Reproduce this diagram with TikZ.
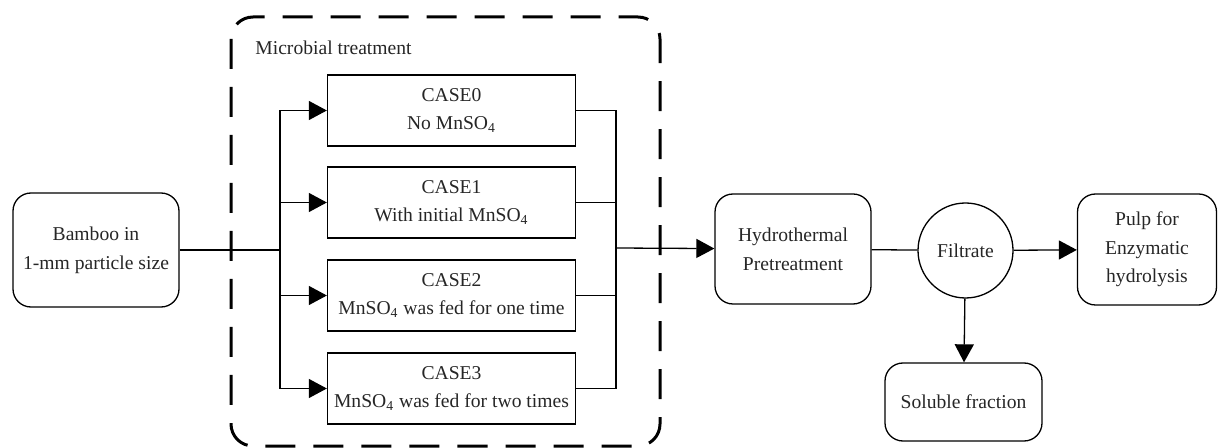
\documentclass[tikz,border=0pt]{standalone}
\usepackage{fontspec}
\setmainfont{Liberation Serif}
\usetikzlibrary{arrows.meta}
\begin{document}
\begin{tikzpicture}[x=0.5pt,y=-0.5pt,
  every node/.style={font=\fontsize{9.8}{14.3}\selectfont, align=center, inner sep=0pt, text=black!85},
  rbox/.style={draw, line width=0.65pt, rounded corners=9pt},
  cbox/.style={draw, line width=0.65pt, minimum width=124pt, minimum height=35.5pt},
  conn/.style={line width=0.65pt},
  arr/.style={conn, -{Triangle[length=9pt,width=9.5pt]}},
]
\useasboundingbox (0,0) rectangle (1220,448);
% microbial treatment frame
\draw[line width=1.5pt, dash pattern=on 15pt off 9pt, rounded corners=11pt] (231,17) rectangle (660,446);
\node[anchor=west] (mt) at (255,48) {Microbial treatment};
% nodes
\node[rbox, minimum width=83pt, minimum height=57pt] (bamboo) at (96,250) {Bamboo in\\1-mm particle size};
\node[cbox] (c0) at (451.5,110.5) {CASE0\\No MnSO\textsubscript{4}};
\node[cbox] (c1) at (451.5,202.5) {CASE1\\With initial MnSO\textsubscript{4}};
\node[cbox] (c2) at (451.5,295.5) {CASE2\\MnSO\textsubscript{4} was fed for one time};
\node[cbox] (c3) at (451.5,388.5) {CASE3\\MnSO\textsubscript{4} was fed for two times};
\node[rbox, minimum width=78pt, minimum height=55pt] (hydro) at (793,249) {Hydrothermal\\Pretreatment};
\node[draw, circle, line width=0.65pt, minimum size=47.5pt] (filt) at (965.5,250.5) {Filtrate};
\node[rbox, minimum width=69.5pt, minimum height=55.5pt] (pulp) at (1147,249.5) {Pulp for\\Enzymatic\\hydrolysis};
\node[rbox, minimum width=78.5pt, minimum height=39pt] (sol) at (963.5,402) {Soluble fraction};
% connectors
\coordinate (split) at (280,250);
\coordinate (merge) at (616,248);
\draw[conn] (bamboo) -- (split);
\draw[arr] (split) |- (c0);
\draw[arr] (split) |- (c1);
\draw[arr] (split) |- (c2);
\draw[arr] (split) |- (c3);
\draw[conn] (c0.east) -| (merge);
\draw[conn] (c1.east) -| (merge);
\draw[conn] (c2.east) -| (merge);
\draw[conn] (c3.east) -| (merge);
\draw[arr] (merge) -- (hydro);
\draw[conn] (hydro) -- (filt);
\draw[arr] (filt) -- (pulp);
\draw[arr] (filt) -- (sol);
\end{tikzpicture}
\end{document}
